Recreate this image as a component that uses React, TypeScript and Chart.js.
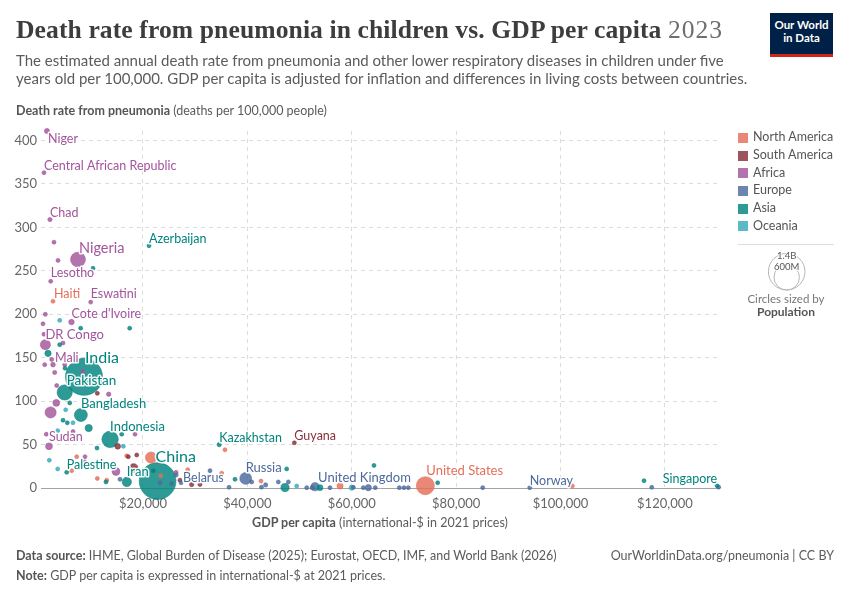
import React, { useEffect, useRef } from "react";
import { Chart, registerables } from "chart.js";

Chart.register(...registerables);

// [country (label shown if non-empty), GDP per capita (int.-$ 2021), death rate per 100,000, population (millions)]
type Pt = [string, number, number, number];

const xTickValues = [20000, 40000, 60000, 80000, 100000, 120000];
const yTickValues = [0, 50, 100, 150, 200, 250, 300, 350, 400];

const northAmerica: Pt[] = [
  ["Haiti", 2760, 215, 11.7],
  ["", 7300, 36, 5],
  ["", 6340, 20, 6],
  ["", 11250, 11, 6],
  ["", 13050, 9, 10],
  ["", 16880, 37, 5],
  ["", 21540, 35, 130],
  ["", 23390, 14, 3],
  ["", 28560, 21, 3],
  ["", 35080, 17, 3],
  ["", 35710, 44, 3],
  ["", 42610, 8, 3],
  ["", 57750, 2.3, 40],
  ["United States", 74100, 2.6, 340],
  ["", 102260, 2.3, 0.4],
];

const southAmerica: Pt[] = [
  ["", 11250, 109, 12],
  ["", 15150, 48, 34],
  ["", 17190, 36, 5],
  ["", 18800, 38, 7],
  ["", 18200, 23, 80],
  ["", 26000, 34, 1],
  ["", 27090, 9, 5],
  ["", 29330, 4, 20],
  ["", 30920, 4, 5],
  ["Guyana", 49000, 52, 0.8],
];

const africa: Pt[] = [
  ["Niger", 1610, 411, 27],
  ["Central African Republic", 1030, 363, 5.3],
  ["Chad", 2180, 309, 19],
  ["", 2950, 283, 8],
  ["", 3720, 262, 10],
  ["Nigeria", 7550, 263, 228],
  ["Lesotho", 2320, 238, 2.3],
  ["Eswatini", 9980, 214, 1.2],
  ["", 1290, 200, 10],
  ["Cote d'Ivoire", 6300, 191, 31],
  ["", 840, 189, 12],
  ["", 1030, 177, 6],
  ["", 4680, 167, 8],
  ["DR Congo", 1300, 165, 105],
  ["", 2510, 148, 8],
  ["", 1170, 142, 15],
  ["Mali", 2760, 142, 23],
  ["", 5000, 142, 6],
  ["", 3080, 133, 18],
  ["", 8440, 134, 5],
  ["", 3470, 118, 12],
  ["", 13430, 108, 20],
  ["", 3390, 98, 48],
  ["", 2300, 87, 128],
  ["", 6590, 65, 5],
  ["", 1480, 62, 10],
  ["", 18470, 62, 2.5],
  ["Sudan", 1990, 48, 48],
  ["", 8890, 36, 10],
  ["", 8830, 30, 6],
  ["", 14830, 19, 63],
  ["", 26330, 18, 1.3],
];

const europe: Pt[] = [
  ["", 15600, 10, 5],
  ["", 23260, 6, 3],
  ["", 25500, 5, 5],
  ["", 26360, 15, 3],
  ["Belarus", 27300, 6, 9],
  ["", 32840, 20, 3],
  ["", 36480, 0.8, 5],
  ["Russia", 39680, 11, 144],
  ["", 40830, 7, 6],
  ["", 42700, 1, 5],
  ["", 43500, 3.5, 19],
  ["", 45930, 7, 5],
  ["", 47850, 7, 3],
  ["", 51370, 0.4, 10],
  ["", 52450, 0.4, 20],
  ["United Kingdom", 52960, 1.5, 69],
  ["", 55830, 0.4, 10],
  ["", 60300, 0.8, 10],
  ["", 62210, 0.4, 10],
  ["", 63170, 0.4, 40],
  ["", 64500, 0.4, 10],
  ["", 69110, 0.4, 6],
  ["", 70000, 0.4, 5],
  ["", 70840, 0.4, 5],
  ["", 85090, 0.4, 5],
  ["Norway", 94100, 0.4, 5.5],
  ["", 117470, 0.8, 5],
  ["", 130300, 1, 0.7],
];

const asia: Pt[] = [
  ["Azerbaijan", 21150, 279, 10],
  ["", 10420, 253, 12],
  ["", 8060, 184, 6],
  ["", 17450, 184, 6],
  ["", 4040, 165, 8],
  ["", 1800, 155, 41],
  ["India", 8700, 128, 1430],
  ["", 5060, 138, 6],
  ["Pakistan", 5000, 110, 240],
  ["", 5970, 98, 6],
  ["Bangladesh", 8100, 84, 172],
  ["", 4680, 78, 8],
  ["", 5500, 75, 8],
  ["", 9600, 69, 54],
  ["Indonesia", 13700, 56, 280],
  ["", 15920, 62, 5],
  ["", 11190, 46, 8],
  ["Palestine", 5380, 18, 5.4],
  ["", 12910, 7, 10],
  ["Iran", 16900, 7, 90],
  ["China", 22800, 8, 1410],
  ["", 21980, 20, 4],
  ["Kazakhstan", 34600, 50, 20],
  ["", 37630, 10, 6],
  ["", 47530, 22, 5],
  ["", 47210, 0.5, 70],
  ["", 53920, 0.4, 35],
  ["", 64260, 26, 4.5],
  ["", 76460, 6, 5],
  ["", 115990, 8.4, 3],
  ["Singapore", 130000, 2.6, 6],
];

const oceania: Pt[] = [
  ["", 4040, 193, 10],
  ["", 5190, 90, 1],
  ["", 6590, 75, 1],
  ["", 3660, 66, 0.7],
  ["", 16240, 48, 1],
  ["", 2050, 32, 0.1],
  ["", 3660, 22, 0.3],
  ["", 49450, 2.3, 5],
  ["", 60000, 0.4, 27],
];

const continentNames = ["North America", "South America", "Africa", "Europe", "Asia", "Oceania"];
const continentData = [northAmerica, southAmerica, africa, europe, asia, oceania];
const continentColors = ["#E56E5A", "#883039", "#A2559C", "#4C6A9C", "#00847E", "#38AABA"];

// label placement (style only)
const labelStyle: Record<string, { dx: number; dy: number; size: number; align?: CanvasTextAlign }> = {
  Niger: { dx: 1, dy: 8, size: 12.5 },
  "Central African Republic": { dx: 0, dy: -7, size: 12.5 },
  Chad: { dx: 0, dy: -7, size: 12.5 },
  Nigeria: { dx: 1, dy: -11, size: 14.5 },
  Azerbaijan: { dx: 0, dy: -7, size: 12.5 },
  Lesotho: { dx: 0, dy: -8, size: 12.5 },
  Haiti: { dx: 1, dy: -7, size: 12.5 },
  Eswatini: { dx: 0, dy: -8, size: 12.5 },
  "Cote d'Ivoire": { dx: 0, dy: -8, size: 12.5 },
  "DR Congo": { dx: 0, dy: -10, size: 13 },
  Mali: { dx: 2, dy: -7, size: 12.5 },
  India: { dx: 1, dy: -19, size: 16 },
  Pakistan: { dx: 2, dy: -12, size: 13.5 },
  Bangladesh: { dx: 0, dy: -11, size: 13 },
  Indonesia: { dx: 0, dy: -13, size: 13 },
  Sudan: { dx: 0, dy: -9, size: 12.5 },
  Palestine: { dx: 0, dy: -7, size: 12.5 },
  China: { dx: -2, dy: -24, size: 16 },
  Iran: { dx: 0, dy: -10, size: 13 },
  Belarus: { dx: 2, dy: -5, size: 12.5 },
  Kazakhstan: { dx: 0, dy: -7, size: 12.5 },
  Guyana: { dx: 0, dy: -7, size: 12.5 },
  Russia: { dx: 0, dy: -11, size: 13 },
  "United Kingdom": { dx: 3, dy: -9, size: 13 },
  "United States": { dx: 1, dy: -15, size: 13 },
  Norway: { dx: 0, dy: -7, size: 12.5 },
  Singapore: { dx: 0, dy: -7, size: 12.5, align: "right" },
};

const radiusOf = (popM: number) => Math.max(2, 18.3 * Math.sqrt(popM / 1400));

function hexA(hex: string, a: number) {
  const n = parseInt(hex.slice(1), 16);
  return `rgba(${(n >> 16) & 255},${(n >> 8) & 255},${n & 255},${a})`;
}

const labelPlugin = {
  id: "countryLabels",
  afterDatasetsDraw(chart: any) {
    const ctx = chart.ctx;
    const meta = chart.getDatasetMeta(0);
    const pts = chart.data.datasets[0].data as any[];
    ctx.save();
    meta.data.forEach((el: any, i: number) => {
      const p = pts[i];
      if (!p.name) return;
      const st = labelStyle[p.name] || { dx: 0, dy: -8, size: 12.5 };
      const x = el.x + st.dx;
      const y = el.y + st.dy;
      ctx.font = `${st.size}px Lato`;
      ctx.textAlign = st.align || "left";
      ctx.textBaseline = "middle";
      ctx.lineJoin = "round";
      ctx.lineWidth = 3;
      ctx.strokeStyle = "rgba(255,255,255,0.9)";
      ctx.strokeText(p.name, x, y);
      ctx.fillStyle = p.color;
      ctx.fillText(p.name, x, y);
    });
    ctx.restore();
  },
};

export default function App() {
  const ref = useRef<HTMLCanvasElement | null>(null);

  useEffect(() => {
    if (!ref.current) return;
    const points = continentData
      .flatMap((list, ci) =>
        list.map(([name, gdp, rate, pop]) => ({
          name,
          x: gdp,
          y: rate,
          r: radiusOf(pop),
          color: continentColors[ci],
        }))
      )
      .sort((a, b) => b.r - a.r);

    const chart = new Chart(ref.current, {
      type: "bubble",
      data: {
        datasets: [
          {
            data: points as any,
            backgroundColor: points.map((p) => hexA(p.color, 0.82)),
            borderColor: points.map((p) => hexA(p.color, 1)),
            borderWidth: 0.6,
            clip: false as any,
          },
        ],
      },
      options: {
        responsive: false,
        animation: false,
        events: [],
        layout: { padding: { top: 131, left: 0, right: 131, bottom: 82 } },
        plugins: { legend: { display: false }, tooltip: { enabled: false } },
        scales: {
          x: {
            type: "linear",
            min: 460,
            max: 130360,
            afterBuildTicks: (a: any) => {
              a.ticks = xTickValues.map((v) => ({ value: v }));
            },
            afterFit: (s: any) => {
              s.height = 30;
            },
            grid: { color: "#dcdcdc", drawTicks: false, lineWidth: 1 },
            border: { display: true, color: "#a3a3a3", width: 1, dash: [4, 4] },
            ticks: {
              color: "#666",
              font: { family: "Lato", size: 13 },
              padding: 8,
              maxRotation: 0,
              autoSkip: false,
              callback: (v: any) => "$" + Number(v).toLocaleString("en-US"),
            },
          },
          y: {
            type: "linear",
            min: 0,
            max: 411,
            afterBuildTicks: (a: any) => {
              a.ticks = yTickValues.map((v) => ({ value: v }));
            },
            afterFit: (s: any) => {
              s.width = 41;
            },
            grid: {
              color: (c: any) => (c.tick && c.tick.value === 0 ? "rgba(0,0,0,0)" : "#dcdcdc"),
              drawTicks: false,
            },
            border: { display: false, dash: [4, 4] },
            ticks: { color: "#666", font: { family: "Lato", size: 13 }, padding: 4, autoSkip: false },
          },
        },
      } as any,
      plugins: [labelPlugin],
    });
    return () => chart.destroy();
  }, []);

  const abs = (left: number, top: number, extra: React.CSSProperties = {}): React.CSSProperties => ({
    position: "absolute",
    left,
    top,
    whiteSpace: "nowrap",
    ...extra,
  });

  return (
    <div
      style={{
        position: "absolute",
        left: 0,
        top: 0,
        width: 850,
        height: 600,
        background: "#fff",
        overflow: "hidden",
        fontFamily: "Lato, sans-serif",
      }}
    >
      <canvas
        ref={ref}
        width={850}
        height={600}
        style={{ position: "absolute", left: 0, top: 0, width: 850, height: 600 }}
      />

      {/* Title */}
      <div
        style={abs(16, 15, {
          font: '600 25.6px "Liberation Serif", serif',
          lineHeight: "30px",
          letterSpacing: "0.1px",
          color: "#3d3d3d",
        })}
      >
        Death rate from pneumonia in children vs. GDP per capita{" "}
        <span style={{ color: "#6e6e6e", fontWeight: 400, letterSpacing: "1px" }}>2023</span>
      </div>

      {/* Subtitle */}
      <div style={abs(16, 51, { fontSize: 15, lineHeight: "18px", color: "#5b5b5b" })}>
        The estimated annual death rate from pneumonia and other lower respiratory diseases in children under five
        <br />
        years old per 100,000. GDP per capita is adjusted for inflation and differences in living costs between
        countries.
      </div>

      {/* Logo */}
      <div
        style={abs(770, 13, {
          width: 63,
          height: 36,
          background: "#002147",
          borderBottom: "3px solid #ce261e",
          color: "#fff",
          fontSize: 11.5,
          fontWeight: 700,
          lineHeight: "13px",
          textAlign: "center",
          paddingTop: 5,
          boxSizing: "content-box",
        })}
      >
        Our World
        <br />
        in Data
      </div>

      {/* Y axis title */}
      <div style={abs(16, 102.5, { fontSize: 12.5, lineHeight: "15px", color: "#5b5b5b" })}>
        <b style={{ color: "#555" }}>Death rate from pneumonia</b> (deaths per 100,000 people)
      </div>

      {/* Legend */}
      {continentNames.map((n, i) => (
        <React.Fragment key={n}>
          <div
            style={abs(738, 133 + i * 17.67, {
              width: 10,
              height: 10,
              background: hexA(continentColors[i], 0.82),
            })}
          />
          <div
            style={abs(753, 141.5 + i * 17.67 - 12.3, {
              fontSize: 12.5,
              lineHeight: "15px",
              color: "#555",
            })}
          >
            {n}
          </div>
        </React.Fragment>
      ))}
      <div style={abs(738, 244, { width: 96, height: 1, background: "#ddd" })} />

      {/* Size legend */}
      <svg style={{ position: "absolute", left: 760, top: 248, overflow: "visible" }} width={54} height={45}>
        <circle cx={26.7} cy={23.7} r={18.3} fill="none" stroke="#b5b5b5" strokeWidth={1} />
        <circle cx={26.7} cy={29.3} r={12.7} fill="none" stroke="#b5b5b5" strokeWidth={1} />
        <text x={26.7} y={9} textAnchor="middle" dominantBaseline="middle" fontSize={9.5} fill="#555" fontFamily="Lato" stroke="#fff" strokeWidth={2} paintOrder="stroke">
          1.4B
        </text>
        <text x={26.7} y={19.7} textAnchor="middle" dominantBaseline="middle" fontSize={9.5} fill="#555" fontFamily="Lato" stroke="#fff" strokeWidth={2} paintOrder="stroke">
          600M
        </text>
      </svg>
      <div style={abs(736, 291.5, { width: 100, textAlign: "center", fontSize: 11.5, lineHeight: "14px", color: "#777" })}>
        Circles sized by
      </div>
      <div
        style={abs(736, 305, {
          width: 100,
          textAlign: "center",
          fontSize: 12,
          lineHeight: "14px",
          fontWeight: 700,
          color: "#555",
        })}
      >
        Population
      </div>

      {/* X axis title */}
      <div style={abs(41, 514.5, { width: 678, textAlign: "center", fontSize: 12.5, lineHeight: "15px", color: "#5b5b5b" })}>
        <b style={{ color: "#555" }}>GDP per capita</b> (international-$ in 2021 prices)
      </div>

      {/* Footer */}
      <div style={abs(16, 548, { fontSize: 12.5, lineHeight: "15px", color: "#5b5b5b" })}>
        <b style={{ color: "#555" }}>Data source:</b> IHME, Global Burden of Disease (2025); Eurostat, OECD, IMF, and
        World Bank (2026)
      </div>
      <div style={abs(434, 548, { width: 400, textAlign: "right", fontSize: 12.5, lineHeight: "15px", color: "#5b5b5b" })}>
        OurWorldinData.org/pneumonia | CC BY
      </div>
      <div style={abs(16, 568, { fontSize: 12.5, lineHeight: "15px", color: "#5b5b5b" })}>
        <b style={{ color: "#555" }}>Note:</b> GDP per capita is expressed in international-$ at 2021 prices.
      </div>
    </div>
  );
}
